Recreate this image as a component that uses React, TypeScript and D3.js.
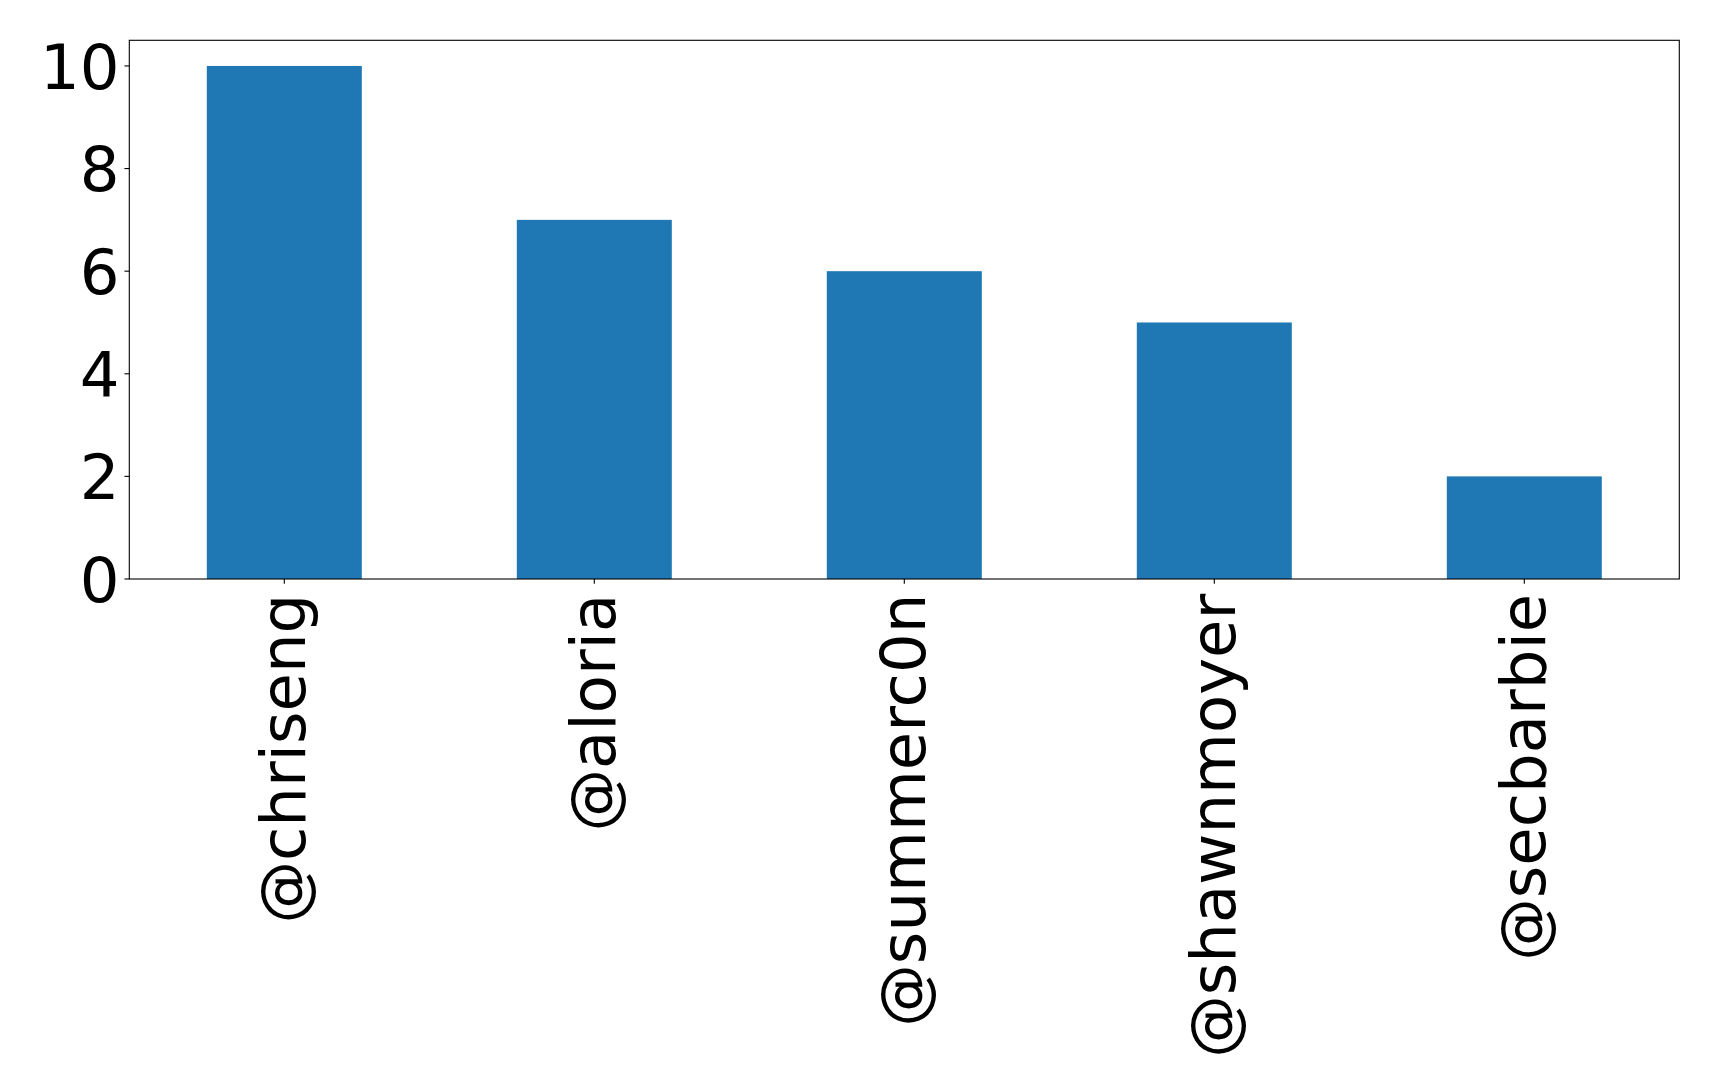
import React from "react";
import * as d3 from "d3";

const categories: string[] = ["@chriseng", "@aloria", "@summerc0n", "@shawnmoyer", "@secbarbie"];
const counts: number[] = [10, 7, 6, 5, 2];
const yTicks: number[] = [0, 2, 4, 6, 8, 10];

const W = 1719;
const H = 1092;
const left = 129.3;
const right = 1679.3;
const top = 40.3;
const bottom = 579;
const FS = 62.5;
const TICK = 4.86;
const PAD = 4.86;
const BAR_COLOR = "#1f77b4";
const FONT = "'DejaVu Sans', sans-serif";

export default function App() {
  const x = d3.scaleLinear().domain([-0.5, categories.length - 0.5]).range([left, right]);
  const y = d3.scaleLinear().domain([0, 10.5]).range([bottom, top]);
  const barW = x(0.25) - x(-0.25);

  return (
    <svg
      width={W}
      height={H}
      style={{ position: "absolute", left: 0, top: 0, background: "#fff" }}
      fontFamily={FONT}
    >
      <rect x={0} y={0} width={W} height={H} fill="#fff" />
      {categories.map((c, i) => (
        <rect
          key={c}
          x={x(i) - barW / 2}
          y={y(counts[i])}
          width={barW}
          height={y(0) - y(counts[i])}
          fill={BAR_COLOR}
        />
      ))}
      <rect
        x={left}
        y={top}
        width={right - left}
        height={bottom - top}
        fill="none"
        stroke="#000"
        strokeWidth={1.1}
      />
      {yTicks.map((t) => (
        <g key={t}>
          <line x1={left - TICK} x2={left} y1={y(t)} y2={y(t)} stroke="#000" strokeWidth={1.1} />
          <text
            x={left - TICK - PAD}
            y={y(t) + 0.3645 * FS}
            fontSize={FS}
            textAnchor="end"
            fill="#000"
          >
            {t}
          </text>
        </g>
      ))}
      {categories.map((c, i) => (
        <g key={c}>
          <line x1={x(i)} x2={x(i)} y1={bottom} y2={bottom + TICK} stroke="#000" strokeWidth={1.1} />
          <text
            transform={`translate(${x(i) + 0.33 * FS},${bottom + TICK + PAD + 5}) rotate(-90)`}
            fontSize={FS}
            textAnchor="end"
            fill="#000"
          >
            {c}
          </text>
        </g>
      ))}
    </svg>
  );
}
